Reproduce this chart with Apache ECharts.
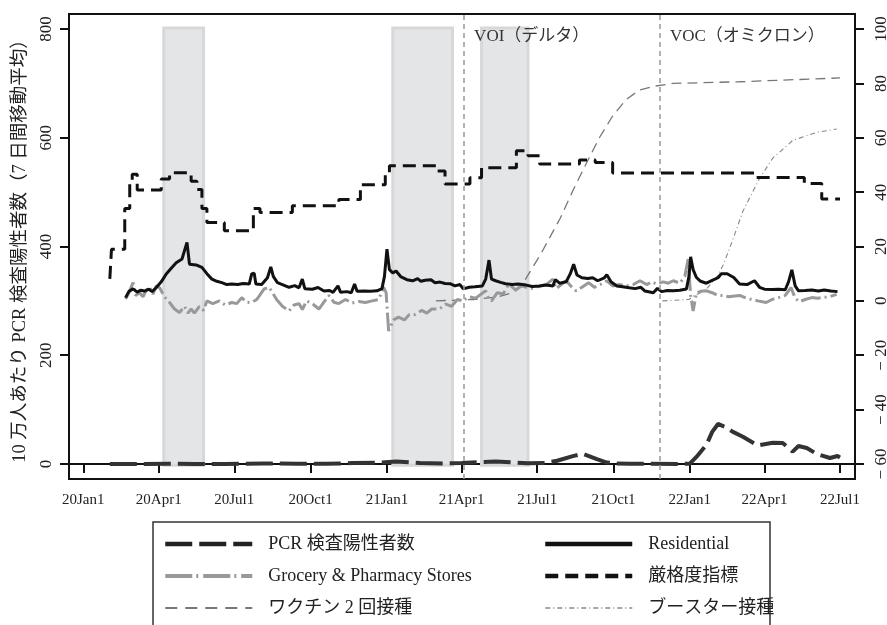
<!DOCTYPE html>
<html>
<head>
<meta charset="utf-8">
<script src="https://cdn.jsdelivr.net/npm/echarts@6/dist/echarts.min.js"></script>
<style>
html, body { margin: 0; padding: 0; background: #fff; }
#chart { width: 887px; height: 625px; }
</style>
</head>
<body>
<div id="chart"></div>
<script>
// tick labels on the date axis
const xTicks = ['2020-01-01', '2020-04-01', '2020-07-01', '2020-10-01', '2021-01-01', '2021-04-01',
    '2021-07-01', '2021-10-01', '2022-01-01', '2022-04-01', '2022-07-01'];
const leftTicks = [0, 200, 400, 600, 800];
const rightTicks = [-60, -40, -20, 0, 20, 40, 60, 80, 100];

// state of emergency periods (shaded)
const emergencyPeriods = [
    ['2020-04-07', '2020-05-25'],
    ['2021-01-08', '2021-03-21'],
    ['2021-04-25', '2021-06-20']
];
// variant designations
const variantLines = [
    ['2021-04-04', 'VOI（デルタ）'],
    ['2021-11-26', 'VOC（オミクロン）']
];

// left axis: PCR positives per 100k (7-day avg)
const pcrData = [
    ['2020-02-02', 0], ['2020-03-15', 0.1], ['2020-04-12', 0.4], ['2020-05-15', 0.1], ['2020-06-20', 0.1],
    ['2020-08-05', 1.0], ['2020-09-15', 0.4], ['2020-10-20', 0.4], ['2020-11-20', 1.6], ['2020-12-25', 2.6],
    ['2021-01-12', 4.8], ['2021-02-10', 1.8], ['2021-03-10', 0.9], ['2021-04-01', 1.8], ['2021-05-12', 4.6],
    ['2021-06-01', 3.0], ['2021-06-20', 1.2], ['2021-07-10', 1.8], ['2021-07-25', 6.0], ['2021-08-13', 14.5],
    ['2021-08-25', 19.0], ['2021-09-11', 9.0], ['2021-09-23', 2.7], ['2021-10-03', 1.0], ['2021-10-20', 0.3],
    ['2021-12-20', 0.2], ['2022-01-01', 0.5], ['2022-01-09', 13.0], ['2022-01-21', 35.0], ['2022-01-28', 59.0],
    ['2022-02-04', 73.6], ['2022-02-12', 68.6], ['2022-02-22', 59.0], ['2022-03-06', 50.0], ['2022-03-24', 34.0],
    ['2022-04-11', 39.0], ['2022-04-23', 38.6], ['2022-05-05', 22.7], ['2022-05-12', 33.0], ['2022-05-22', 29.4],
    ['2022-06-03', 18.4], ['2022-06-19', 11.0], ['2022-06-28', 14.7], ['2022-07-01', 12.0]
];

// right axis: Google mobility, residential
const residentialData = [
    ['2020-02-21', 1.2], ['2020-02-25', 3.5], ['2020-03-01', 4.4], ['2020-03-06', 3.2], ['2020-03-10', 3.9],
    ['2020-03-15', 3.6], ['2020-03-20', 4.3], ['2020-03-24', 3.4], ['2020-03-29', 4.9], ['2020-04-04', 7.0],
    ['2020-04-10', 9.9], ['2020-04-16', 12.0], ['2020-04-22', 14.0], ['2020-04-29', 15.4], ['2020-05-03', 19.5],
    ['2020-05-05', 21.5], ['2020-05-08', 13.5], ['2020-05-16', 13.2], ['2020-05-23', 12.3], ['2020-05-29', 10.0],
    ['2020-06-04', 8.0], ['2020-06-10', 7.2], ['2020-06-16', 6.7], ['2020-06-22', 6.0], ['2020-06-28', 6.2],
    ['2020-07-05', 6.0], ['2020-07-12', 6.4], ['2020-07-19', 6.2], ['2020-07-22', 9.9], ['2020-07-25', 10.2],
    ['2020-07-27', 6.2], ['2020-08-03', 6.0], ['2020-08-10', 8.5], ['2020-08-14', 12.5], ['2020-08-17', 9.0],
    ['2020-08-22', 6.7], ['2020-08-28', 6.0], ['2020-09-05', 5.0], ['2020-09-12', 5.6], ['2020-09-17', 4.8],
    ['2020-09-21', 8.0], ['2020-09-24', 4.5], ['2020-10-03', 4.3], ['2020-10-10', 4.9], ['2020-10-17', 3.6],
    ['2020-10-24', 3.8], ['2020-10-28', 3.1], ['2020-11-03', 5.5], ['2020-11-06', 3.2], ['2020-11-14', 3.4],
    ['2020-11-19', 3.0], ['2020-11-23', 6.2], ['2020-11-26', 3.5], ['2020-12-04', 3.6], ['2020-12-12', 3.5],
    ['2020-12-20', 3.7], ['2020-12-26', 4.5], ['2020-12-29', 9.0], ['2021-01-01', 19.0], ['2021-01-04', 11.5],
    ['2021-01-08', 10.3], ['2021-01-12', 11.0], ['2021-01-18', 8.8], ['2021-01-25', 7.8], ['2021-02-01', 7.4],
    ['2021-02-07', 8.2], ['2021-02-11', 7.2], ['2021-02-16', 7.6], ['2021-02-23', 7.8], ['2021-02-28', 6.7],
    ['2021-03-06', 6.9], ['2021-03-12', 6.4], ['2021-03-18', 6.3], ['2021-03-24', 5.5], ['2021-03-30', 6.0],
    ['2021-04-03', 4.4], ['2021-04-10', 5.0], ['2021-04-17', 5.2], ['2021-04-26', 5.5], ['2021-04-30', 8.0],
    ['2021-05-04', 15.0], ['2021-05-07', 8.0], ['2021-05-12', 7.4], ['2021-05-18', 6.8], ['2021-05-24', 6.3],
    ['2021-06-01', 6.0], ['2021-06-08', 6.2], ['2021-06-18', 5.8], ['2021-06-25', 5.3], ['2021-07-04', 5.5],
    ['2021-07-12', 5.8], ['2021-07-20', 5.5], ['2021-07-23', 7.8], ['2021-07-28', 6.5], ['2021-08-05', 7.0],
    ['2021-08-10', 10.0], ['2021-08-14', 13.5], ['2021-08-18', 9.5], ['2021-08-24', 8.5], ['2021-08-31', 8.2],
    ['2021-09-06', 8.5], ['2021-09-12', 7.4], ['2021-09-20', 8.5], ['2021-09-23', 9.6], ['2021-09-28', 7.0],
    ['2021-10-05', 5.5], ['2021-10-12', 5.2], ['2021-10-20', 4.8], ['2021-10-27', 4.5], ['2021-11-03', 5.0],
    ['2021-11-08', 3.6], ['2021-11-18', 3.0], ['2021-11-23', 4.6], ['2021-11-28', 3.4], ['2021-12-05', 3.8],
    ['2021-12-12', 3.7], ['2021-12-20', 3.9], ['2021-12-28', 4.4], ['2021-12-31', 9.0], ['2022-01-02', 16.2],
    ['2022-01-05', 11.5], ['2022-01-09', 8.6], ['2022-01-14', 7.2], ['2022-01-21', 6.5], ['2022-01-28', 7.5],
    ['2022-02-04', 8.5], ['2022-02-08', 10.0], ['2022-02-15', 10.0], ['2022-02-23', 8.6], ['2022-03-02', 6.2],
    ['2022-03-11', 6.0], ['2022-03-20', 7.4], ['2022-03-26', 5.0], ['2022-04-01', 4.3], ['2022-04-10', 4.2],
    ['2022-04-18', 4.3], ['2022-04-26', 4.1], ['2022-04-30', 7.0], ['2022-05-04', 11.4], ['2022-05-08', 5.5],
    ['2022-05-12', 3.7], ['2022-05-20', 3.8], ['2022-05-28', 4.0], ['2022-06-05', 3.6], ['2022-06-12', 4.0],
    ['2022-06-20', 3.6], ['2022-06-28', 3.4]
];

// right axis: Google mobility, grocery & pharmacy
const groceryData = [
    ['2020-02-21', 0.7], ['2020-02-25', 3.0], ['2020-03-01', 6.7], ['2020-03-04', 2.0], ['2020-03-09', 3.0],
    ['2020-03-13', 1.5], ['2020-03-17', 4.0], ['2020-03-21', 5.0], ['2020-03-25', 2.5], ['2020-03-29', 5.5],
    ['2020-04-02', 4.8], ['2020-04-08', 1.5], ['2020-04-14', -0.6], ['2020-04-20', -3.0], ['2020-04-26', -4.3],
    ['2020-05-02', -2.0], ['2020-05-06', -4.5], ['2020-05-10', -3.0], ['2020-05-14', -4.5], ['2020-05-20', -2.0],
    ['2020-05-25', -3.5], ['2020-05-29', 0.0], ['2020-06-05', -1.0], ['2020-06-13', 0.0], ['2020-06-20', -1.5],
    ['2020-06-28', -0.6], ['2020-07-04', -1.0], ['2020-07-10', 1.2], ['2020-07-16', -0.5], ['2020-07-22', -0.6],
    ['2020-07-28', 0.5], ['2020-08-06', 4.4], ['2020-08-12', 5.0], ['2020-08-17', 2.5], ['2020-08-21', 0.5],
    ['2020-08-28', -2.0], ['2020-09-05', -3.7], ['2020-09-11', -1.5], ['2020-09-17', -1.0], ['2020-09-21', -3.2],
    ['2020-09-26', 0.0], ['2020-10-03', -1.0], ['2020-10-11', -3.0], ['2020-10-17', -0.5], ['2020-10-23', 2.0],
    ['2020-10-29', -0.5], ['2020-11-04', -1.0], ['2020-11-12', 0.5], ['2020-11-20', -0.8], ['2020-11-28', -0.2],
    ['2020-12-06', -0.6], ['2020-12-14', 0.0], ['2020-12-22', 0.5], ['2020-12-28', 5.0], ['2020-12-31', 3.0],
    ['2021-01-03', -11.0], ['2021-01-09', -7.0], ['2021-01-15', -6.0], ['2021-01-22', -7.0], ['2021-01-28', -5.0],
    ['2021-02-04', -5.0], ['2021-02-12', -3.5], ['2021-02-18', -4.5], ['2021-02-24', -3.0], ['2021-03-05', -3.0],
    ['2021-03-13', -1.2], ['2021-03-20', -2.0], ['2021-03-27', 0.5], ['2021-04-02', 0.0], ['2021-04-10', 1.5],
    ['2021-04-18', 1.0], ['2021-04-30', 3.7], ['2021-05-04', 0.5], ['2021-05-07', 0.0], ['2021-05-14', 3.0],
    ['2021-05-21', 2.5], ['2021-05-28', 6.2], ['2021-06-05', 4.0], ['2021-06-12', 5.5], ['2021-06-18', 5.0],
    ['2021-06-26', 4.5], ['2021-07-04', 5.5], ['2021-07-12', 6.0], ['2021-07-20', 8.0], ['2021-07-24', 4.5],
    ['2021-07-30', 6.0], ['2021-08-05', 7.4], ['2021-08-12', 5.0], ['2021-08-17', 3.7], ['2021-08-24', 5.0],
    ['2021-09-01', 6.7], ['2021-09-08', 5.0], ['2021-09-15', 6.0], ['2021-09-23', 7.4], ['2021-09-30', 5.5],
    ['2021-10-08', 6.0], ['2021-10-17', 5.5], ['2021-10-25', 6.0], ['2021-11-02', 7.4], ['2021-11-10', 6.0],
    ['2021-11-16', 7.0], ['2021-11-22', 6.2], ['2021-11-30', 7.0], ['2021-12-06', 6.5], ['2021-12-12', 7.4],
    ['2021-12-20', 6.5], ['2021-12-26', 9.0], ['2021-12-30', 15.4], ['2022-01-02', 2.0], ['2022-01-05', -3.7],
    ['2022-01-09', 3.0], ['2022-01-14', 3.5], ['2022-01-21', 3.7], ['2022-01-28', 3.0], ['2022-02-04', 2.0],
    ['2022-02-10', 2.0], ['2022-02-17', 1.5], ['2022-02-24', 1.8], ['2022-03-02', 2.0], ['2022-03-10', 1.0],
    ['2022-03-17', 0.5], ['2022-03-24', 0.0], ['2022-04-03', -0.6], ['2022-04-10', 0.5], ['2022-04-18', 1.2],
    ['2022-04-26', 2.0], ['2022-05-03', 4.9], ['2022-05-08', 1.0], ['2022-05-13', -0.3], ['2022-05-20', 0.5],
    ['2022-05-28', 1.2], ['2022-06-04', 1.0], ['2022-06-10', 1.2], ['2022-06-18', 1.5], ['2022-06-27', 2.4]
];

// right axis: stringency index (step changes)
const stringencyData = [
    ['2020-02-02', 8.1], ['2020-02-04', 19.0], ['2020-02-20', 34.0], ['2020-02-26', 43.5], ['2020-02-29', 46.6],
    ['2020-03-06', 40.8], ['2020-04-04', 44.8], ['2020-04-14', 47.1], ['2020-05-10', 44.0], ['2020-05-17', 41.0],
    ['2020-05-23', 34.0], ['2020-05-29', 28.8], ['2020-06-19', 25.8], ['2020-07-24', 34.0], ['2020-08-01', 32.5],
    ['2020-09-09', 35.0], ['2020-11-04', 37.3], ['2020-11-30', 42.7], ['2020-12-30', 47.0], ['2021-01-04', 49.7],
    ['2021-03-02', 47.8], ['2021-03-12', 43.0], ['2021-04-11', 45.3], ['2021-04-25', 49.0], ['2021-06-06', 55.2],
    ['2021-06-20', 53.4], ['2021-07-04', 50.3], ['2021-08-21', 51.8], ['2021-09-09', 50.9], ['2021-09-30', 47.0],
    ['2022-03-20', 45.4], ['2022-05-19', 43.2], ['2022-06-09', 37.5], ['2022-07-01', 37.5]
];

// right axis: share with 2 doses, share boosted (%)
const vaccine2Data = [
    ['2021-03-01', 0], ['2021-04-15', 0.5], ['2021-05-15', 1.5], ['2021-06-01', 3.0], ['2021-06-11', 5.0],
    ['2021-07-05', 17.0], ['2021-07-29', 30.5], ['2021-08-13', 40.5], ['2021-08-30', 51.0], ['2021-09-14', 60.0],
    ['2021-09-30', 68.0], ['2021-10-16', 74.0], ['2021-11-01', 77.5], ['2021-11-20', 79.0], ['2021-12-12', 80.0],
    ['2022-03-02', 80.6], ['2022-07-01', 82.0]
];
const boosterData = [
    ['2021-11-29', 0], ['2021-12-31', 0.5], ['2022-01-04', 1.5], ['2022-01-20', 4.0], ['2022-02-03', 9.0],
    ['2022-02-10', 13.0], ['2022-02-20', 21.0], ['2022-03-06', 33.0], ['2022-03-26', 45.0], ['2022-04-11', 52.5],
    ['2022-05-05', 59.0], ['2022-06-03', 62.0], ['2022-06-27', 63.2]
];

const DAY = 86400000;
const MON = ['Jan', 'Feb', 'Mar', 'Apr', 'May', 'Jun', 'Jul', 'Aug', 'Sep', 'Oct', 'Nov', 'Dec'];
const SERIF = "'Liberation Serif', 'Noto Sans CJK JP', serif";

const ts = (s) => {
    const p = s.split('-').map(Number);
    return new Date(p[0], p[1] - 1, p[2]).getTime();
};
const toXY = (arr) => arr.map(d => [ts(d[0]), d[1]]);

const chart = echarts.init(document.getElementById('chart'));

// legend rows: line sample only, no symbol
const legendItem = (name, lineStyle) => ({ name, lineStyle, itemStyle: { opacity: 0 } });
const legendBase = {
    top: 534, orient: 'vertical', padding: 0,
    itemWidth: 87, itemHeight: 14, itemGap: 12, selectedMode: false,
    textStyle: { fontSize: 18, fontFamily: SERIF, color: '#222', lineHeight: 20, padding: [0, 0, 0, 11] }
};

const option = {
    animation: false,
    backgroundColor: '#fff',
    grid: {
        left: 69, right: 32, top: 14, bottom: 146,
        outerBoundsMode: 'none',
        show: true, borderColor: '#111', borderWidth: 2
    },
    xAxis: {
        type: 'value',
        min: ts('2020-01-01') - 17.2 * DAY,
        max: ts('2022-07-01') + 18.1 * DAY,
        axisLine: { lineStyle: { color: '#111', width: 2 } },
        axisTick: { customValues: xTicks.map(ts), length: 9, lineStyle: { color: '#111', width: 2 } },
        axisLabel: {
            customValues: xTicks.map(ts),
            margin: 14,
            fontSize: 15,
            fontFamily: SERIF,
            color: '#222',
            formatter: (v) => {
                const d = new Date(v);
                return (d.getFullYear() % 100) + MON[d.getMonth()] + d.getDate();
            }
        },
        splitLine: { show: false }
    },
    yAxis: [
        {
            type: 'value',
            position: 'left',
            min: -27.6,
            max: 827.6,
            name: '10 万人あたり PCR 検査陽性者数（7 日間移動平均）',
            nameLocation: 'middle',
            nameRotate: 90,
            nameGap: 40,
            nameTextStyle: { fontSize: 18.5, fontFamily: SERIF, color: '#222' },
            axisLine: { show: true, lineStyle: { color: '#111', width: 2 } },
            axisTick: { show: true, customValues: leftTicks, length: 9, lineStyle: { color: '#111', width: 2 } },
            axisLabel: {
                customValues: leftTicks, rotate: 90, margin: 14,
                fontSize: 17, fontFamily: SERIF, color: '#222'
            },
            splitLine: { show: false }
        },
        {
            type: 'value',
            position: 'right',
            min: -65.52,
            max: 105.52,
            axisLine: { show: true, lineStyle: { color: '#111', width: 2 } },
            axisTick: { show: true, customValues: rightTicks, length: 9, lineStyle: { color: '#111', width: 2 } },
            axisLabel: {
                customValues: rightTicks, rotate: 90, margin: 18,
                fontSize: 17, fontFamily: SERIF, color: '#222',
                formatter: (v) => (v < 0 ? '\u2212 ' + Math.abs(v) : String(v))
            },
            splitLine: { show: false }
        }
    ],
    legend: [
        Object.assign({}, legendBase, {
            left: 163,
            data: [
                legendItem('PCR 検査陽性者数', { width: 4.5, type: [27, 7], color: '#222' }),
                legendItem('Grocery & Pharmacy Stores', { width: 4, type: [27, 4, 2, 5], color: '#999' }),
                legendItem('ワクチン 2 回接種', { width: 2.2, type: [12, 8], color: '#777' })
            ]
        }),
        Object.assign({}, legendBase, {
            left: 543,
            data: [
                legendItem('Residential', { width: 4.5, type: 'solid', color: '#111' }),
                legendItem('厳格度指標', { width: 4.5, type: [13, 7], color: '#111' }),
                legendItem('ブースター接種', { width: 1.6, type: [5, 3, 1, 3], color: '#888' })
            ]
        })
    ],
    graphic: [
        {
            type: 'rect', silent: true, z: -1,
            shape: { x: 153, y: 522, width: 617, height: 130 },
            style: { fill: 'none', stroke: '#333', lineWidth: 1.5 }
        }
    ],
    series: [
        {
            name: 'emergency',
            type: 'line',
            data: [],
            z: 1,
            silent: true,
            markArea: {
                silent: true,
                itemStyle: { color: '#e4e5e7', borderColor: '#d7d8da', borderWidth: 3 },
                data: emergencyPeriods.map(p => [
                    { xAxis: ts(p[0]), yAxis: -2.5 },
                    { xAxis: ts(p[1]), yAxis: 802 }
                ])
            }
        },
        {
            name: 'variants',
            type: 'line',
            data: [],
            z: 2,
            silent: true,
            markLine: {
                silent: true,
                symbol: ['none', 'none'],
                label: { show: false },
                lineStyle: { color: '#999', type: [5, 4], width: 1.5 },
                data: variantLines.map(v => ({ xAxis: ts(v[0]) }))
            },
            markPoint: {
                silent: true,
                symbol: 'circle',
                symbolSize: 0,
                label: {
                    show: true, position: 'right', distance: 10,
                    fontSize: 17, fontFamily: SERIF, color: '#333'
                },
                data: variantLines.map(v => ({ coord: [ts(v[0]), 787], value: v[1] }))
            }
        },
        {
            name: 'ワクチン 2 回接種',
            type: 'line', yAxisIndex: 1, z: 3,
            showSymbol: false, symbol: 'none',
            lineStyle: { color: '#777', width: 1.3, type: [10, 6] },
            data: toXY(vaccine2Data)
        },
        {
            name: 'ブースター接種',
            type: 'line', yAxisIndex: 1, z: 3,
            showSymbol: false, symbol: 'none',
            lineStyle: { color: '#888', width: 1.1, type: [5, 3, 1, 3] },
            data: toXY(boosterData)
        },
        {
            name: 'Grocery & Pharmacy Stores',
            type: 'line', yAxisIndex: 1, z: 3,
            showSymbol: false, symbol: 'none',
            lineStyle: { color: '#999', width: 3, type: [20, 4, 2, 4] },
            data: toXY(groceryData)
        },
        {
            name: '厳格度指標',
            type: 'line', yAxisIndex: 1, z: 3,
            step: 'end',
            showSymbol: false, symbol: 'none',
            lineStyle: { color: '#111', width: 3, type: [13, 7] },
            data: toXY(stringencyData)
        },
        {
            name: 'PCR 検査陽性者数',
            type: 'line', yAxisIndex: 0, z: 3,
            showSymbol: false, symbol: 'none',
            lineStyle: { color: '#333', width: 4, type: [27, 7] },
            data: toXY(pcrData)
        },
        {
            name: 'Residential',
            type: 'line', yAxisIndex: 1, z: 3,
            showSymbol: false, symbol: 'none',
            lineStyle: { color: '#111', width: 3 },
            data: toXY(residentialData)
        }
    ]
};

chart.setOption(option);
</script>
</body>
</html>
